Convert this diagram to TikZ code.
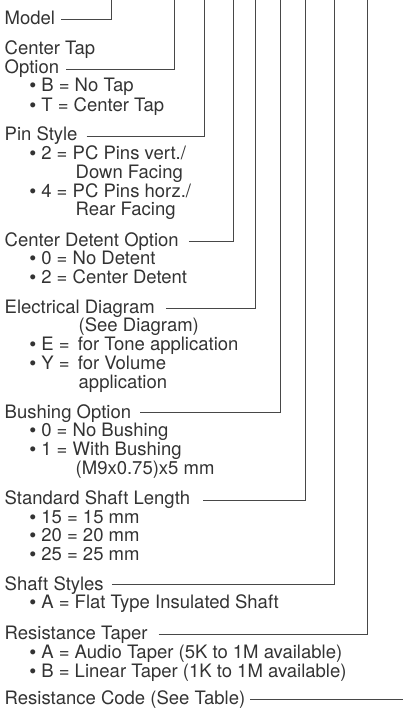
\documentclass[tikz,border=0pt]{standalone}
\usepackage{fontspec}
\setmainfont{TeX Gyre Heros}
\newfontfamily\bulfont{Liberation Sans}
\newcommand\bul{{\bulfont •}}
\definecolor{txtgray}{HTML}{333333}
\definecolor{linegray}{HTML}{474747}
\begin{document}
\begin{tikzpicture}[x=1pt,y=-1pt,
  lbl/.style={anchor=base west,inner sep=0pt,text=txtgray,font=\fontsize{18.5}{18.7}\selectfont},
  ldr/.style={draw=linegray,line width=.9pt}]
\useasboundingbox (0,0) rectangle (403,709);
\foreach \name/\x in {v1/111.7,v2/174,v3/204.7,v4/233,v5/255.7,v6/280,v7/305.7,v8/334,v9/367.7,v10/403}
  \coordinate (\name) at (\x,0);
\node[lbl] (model) at (4.5,25) {Model};
\node[lbl] (tap) at (4.5,55) {Center Tap};
\node[lbl] (tapopt) at (4.5,73.5) {Option};
\node[lbl] (tapB) at (29.5,92) {\bul{} B = No Tap};
\node[lbl] (tapT) at (29.5,111) {\bul{} T = Center Tap};
\node[lbl] (pin) at (4.5,140) {Pin Style};
\node[lbl] (pin2) at (29.5,159) {\bul{} 2 = PC Pins vert./};
\node[lbl] (pin2b) at (75.5,178) {Down Facing};
\node[lbl] (pin4) at (29.5,197) {\bul{} 4 = PC Pins horz./};
\node[lbl] (pin4b) at (75.5,215.5) {Rear Facing};
\node[lbl] (detent) at (4.5,246) {Center Detent Option};
\node[lbl] (det0) at (29.5,264.5) {\bul{} 0 = No Detent};
\node[lbl] (det2) at (29.5,283) {\bul{} 2 = Center Detent};
\node[lbl] (elec) at (4.5,313) {Electrical Diagram};
\node[lbl] (elecsee) at (78.5,331.5) {(See Diagram)};
\node[lbl] (elecE) at (29.5,350.5) {\bul{} E = \,for Tone application};
\node[lbl] (elecY) at (29.5,369) {\bul{} Y = \,for Volume};
\node[lbl] (elecYb) at (78.5,388) {application};
\node[lbl] (bush) at (4.5,418) {Bushing Option};
\node[lbl] (bush0) at (29.5,436.5) {\bul{} 0 = No Bushing};
\node[lbl] (bush1) at (29.5,455.5) {\bul{} 1 = With Bushing};
\node[lbl] (bush1b) at (75.5,474) {(M9x0.75)x5 mm};
\node[lbl] (shaftlen) at (4.5,504.5) {Standard Shaft Length};
\node[lbl] (len15) at (29.5,523) {\bul{} 15 = 15 mm};
\node[lbl] (len20) at (29.5,541.7) {\bul{} 20 = 20 mm};
\node[lbl] (len25) at (29.5,560) {\bul{} 25 = 25 mm};
\node[lbl] (shaftst) at (4.5,590) {Shaft Styles};
\node[lbl] (stA) at (29.5,608) {\bul{} A = Flat Type Insulated Shaft};
\node[lbl] (taper) at (4.5,639) {Resistance Taper};
\node[lbl] (taperA) at (29.5,658) {\bul{} A = Audio Taper (5K to 1M available)};
\node[lbl] (taperB) at (29.5,677) {\bul{} B = Linear Taper (1K to 1M available)};
\node[lbl] (rcode) at (4.5,704.5) {Resistance Code (See Table)};
\draw[ldr] ([xshift=6pt,yshift=6pt]model.base east) -| (v1);
\draw[ldr] ([xshift=7pt,yshift=4.5pt]tapopt.base east) -| (v2);
\draw[ldr] ([xshift=9pt,yshift=4pt]pin.base east) -| (v3);
\draw[ldr] ([xshift=10pt,yshift=5pt]detent.base east) -| (v4);
\draw[ldr] ([xshift=11pt,yshift=5pt]elec.base east) -| (v5);
\draw[ldr] ([xshift=9pt,yshift=6pt]bush.base east) -| (v6);
\draw[ldr] ([xshift=13pt,yshift=4.5pt]shaftlen.base east) -| (v7);
\draw[ldr] ([xshift=8pt,yshift=6pt]shaftst.base east) -| (v8);
\draw[ldr] ([xshift=11pt,yshift=5pt]taper.base east) -| (v9);
\draw[ldr] ([xshift=5pt,yshift=5.5pt]rcode.base east) coordinate (rc) -- (rc -| v10);
\end{tikzpicture}
\end{document}
